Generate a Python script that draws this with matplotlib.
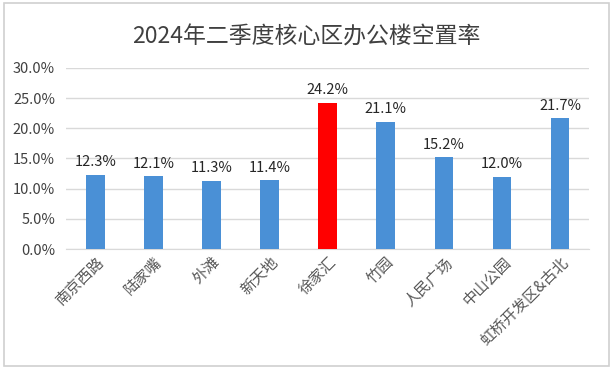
import matplotlib
matplotlib.use('Agg')
import matplotlib.pyplot as plt
from matplotlib.patches import Rectangle
from matplotlib.ticker import FuncFormatter, MultipleLocator

plt.rcParams['font.family'] = ['Noto Sans CJK SC', 'DejaVu Sans']

# data
districts = ['南京西路', '陆家嘴', '外滩', '新天地', '徐家汇', '竹园',
             '人民广场', '中山公园', '虹桥开发区&古北']
vacancy = [12.3, 12.1, 11.3, 11.4, 24.2, 21.1, 15.2, 12.0, 21.7]
highlight = '徐家汇'

colors = ['#FF0000' if d == highlight else '#4A90D6' for d in districts]

fig = plt.figure(figsize=(6.13, 3.69), dpi=100)
fig.patches.append(Rectangle((0.006, 0.008), 0.988, 0.984, transform=fig.transFigure,
                             fill=False, edgecolor='#D0D0D0', linewidth=1.2))
ax = fig.add_axes([0.108, 0.325, 0.853, 0.491])

x = range(len(districts))
bars = ax.bar(x, vacancy, width=0.32, color=colors, zorder=3)
for xi, v in zip(x, vacancy):
    ax.text(xi, v + 0.9, f'{v:.1f}%', ha='center', va='bottom',
            fontsize=10.5, color='#262626', zorder=4)

ax.set_xlim(-0.5, len(districts) - 0.5)
ax.set_ylim(0, 30)
ax.yaxis.set_major_locator(MultipleLocator(5))
ax.yaxis.set_major_formatter(FuncFormatter(lambda v, p: f'{v:.1f}%'))
ax.grid(axis='y', color='#D9D9D9', linewidth=1, zorder=0)
for s in ['top', 'right', 'left']:
    ax.spines[s].set_visible(False)
ax.spines['bottom'].set_color('#D9D9D9')
ax.tick_params(axis='both', length=0, labelsize=10.5, colors='#404040')
ax.tick_params(axis='y', pad=8)
ax.set_xticks(list(x))
ax.set_xticklabels(districts, rotation=45, ha='right', rotation_mode='anchor',
                   fontsize=11, color='#595959')

fig.text(0.5, 0.9, '2024年二季度核心区办公楼空置率', ha='center', va='center',
         fontsize=16.5, color='#404040')

fig.savefig('out.png', dpi=100)
